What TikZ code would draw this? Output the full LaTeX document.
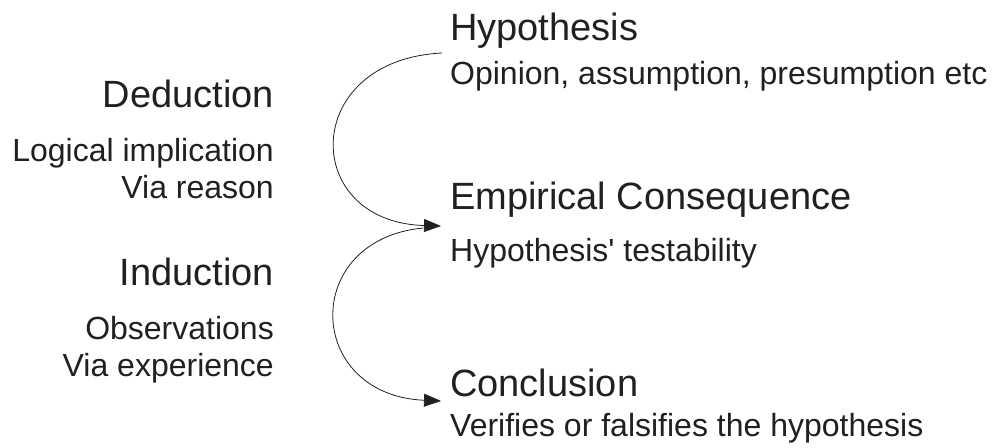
\documentclass[tikz,border=0pt]{standalone}
\usepackage{fontspec}
\setmainfont{Liberation Sans}
\usetikzlibrary{arrows.meta}
\definecolor{ink}{HTML}{231F20}
\begin{document}
\begin{tikzpicture}[x=1pt,y=-1pt,
  title/.style={inner sep=0pt,text=ink,font=\fontsize{38}{40}\selectfont},
  note/.style={inner sep=0pt,text=ink,font=\fontsize{32}{34}\selectfont},
  loopline/.style={draw=ink,line width=0.8pt,-{Triangle[length=17pt,width=13pt]}}]
\useasboundingbox (0,0) rectangle (993,447);

% right column: stages
\node[title,anchor=base west] (hyp)  at (450,40)  {Hypothesis};
\node[note, anchor=base west] (hypn) at (450,84)  {Opinion, assumption, presumption etc};
\node[title,anchor=base west] (emp)  at (450,209) {Empirical Consequence};
\node[note, anchor=base west] (empn) at (450,261) {Hypothesis\textquotesingle{} testability};
\node[title,anchor=base west] (con)  at (450,396) {Conclusion};
\node[note, anchor=base west] (conn) at (450,436) {Verifies or falsifies the hypothesis};

% left column: reasoning modes
\node[title,anchor=base east] (ded)  at (274,107) {Deduction};
\node[note, anchor=base east] (ded1) at (274,161) {Logical implication};
\node[note, anchor=base east] (ded2) at (274,198) {Via reason};
\node[title,anchor=base east] (ind)  at (274,285) {Induction};
\node[note, anchor=base east] (ind1) at (274,339) {Observations};
\node[note, anchor=base east] (ind2) at (274,376) {Via experience};

% arrow end points
\coordinate (a0) at (442,53);
\coordinate (a1) at (441,226);
\coordinate (b0) at (423,228);
\coordinate (b1) at (441,401);

\draw[loopline] (a0) .. controls (300,60) and (300,222) .. (a1);
\draw[loopline] (b0) .. controls (300,240) and (305,395) .. (b1);
\end{tikzpicture}
\end{document}
